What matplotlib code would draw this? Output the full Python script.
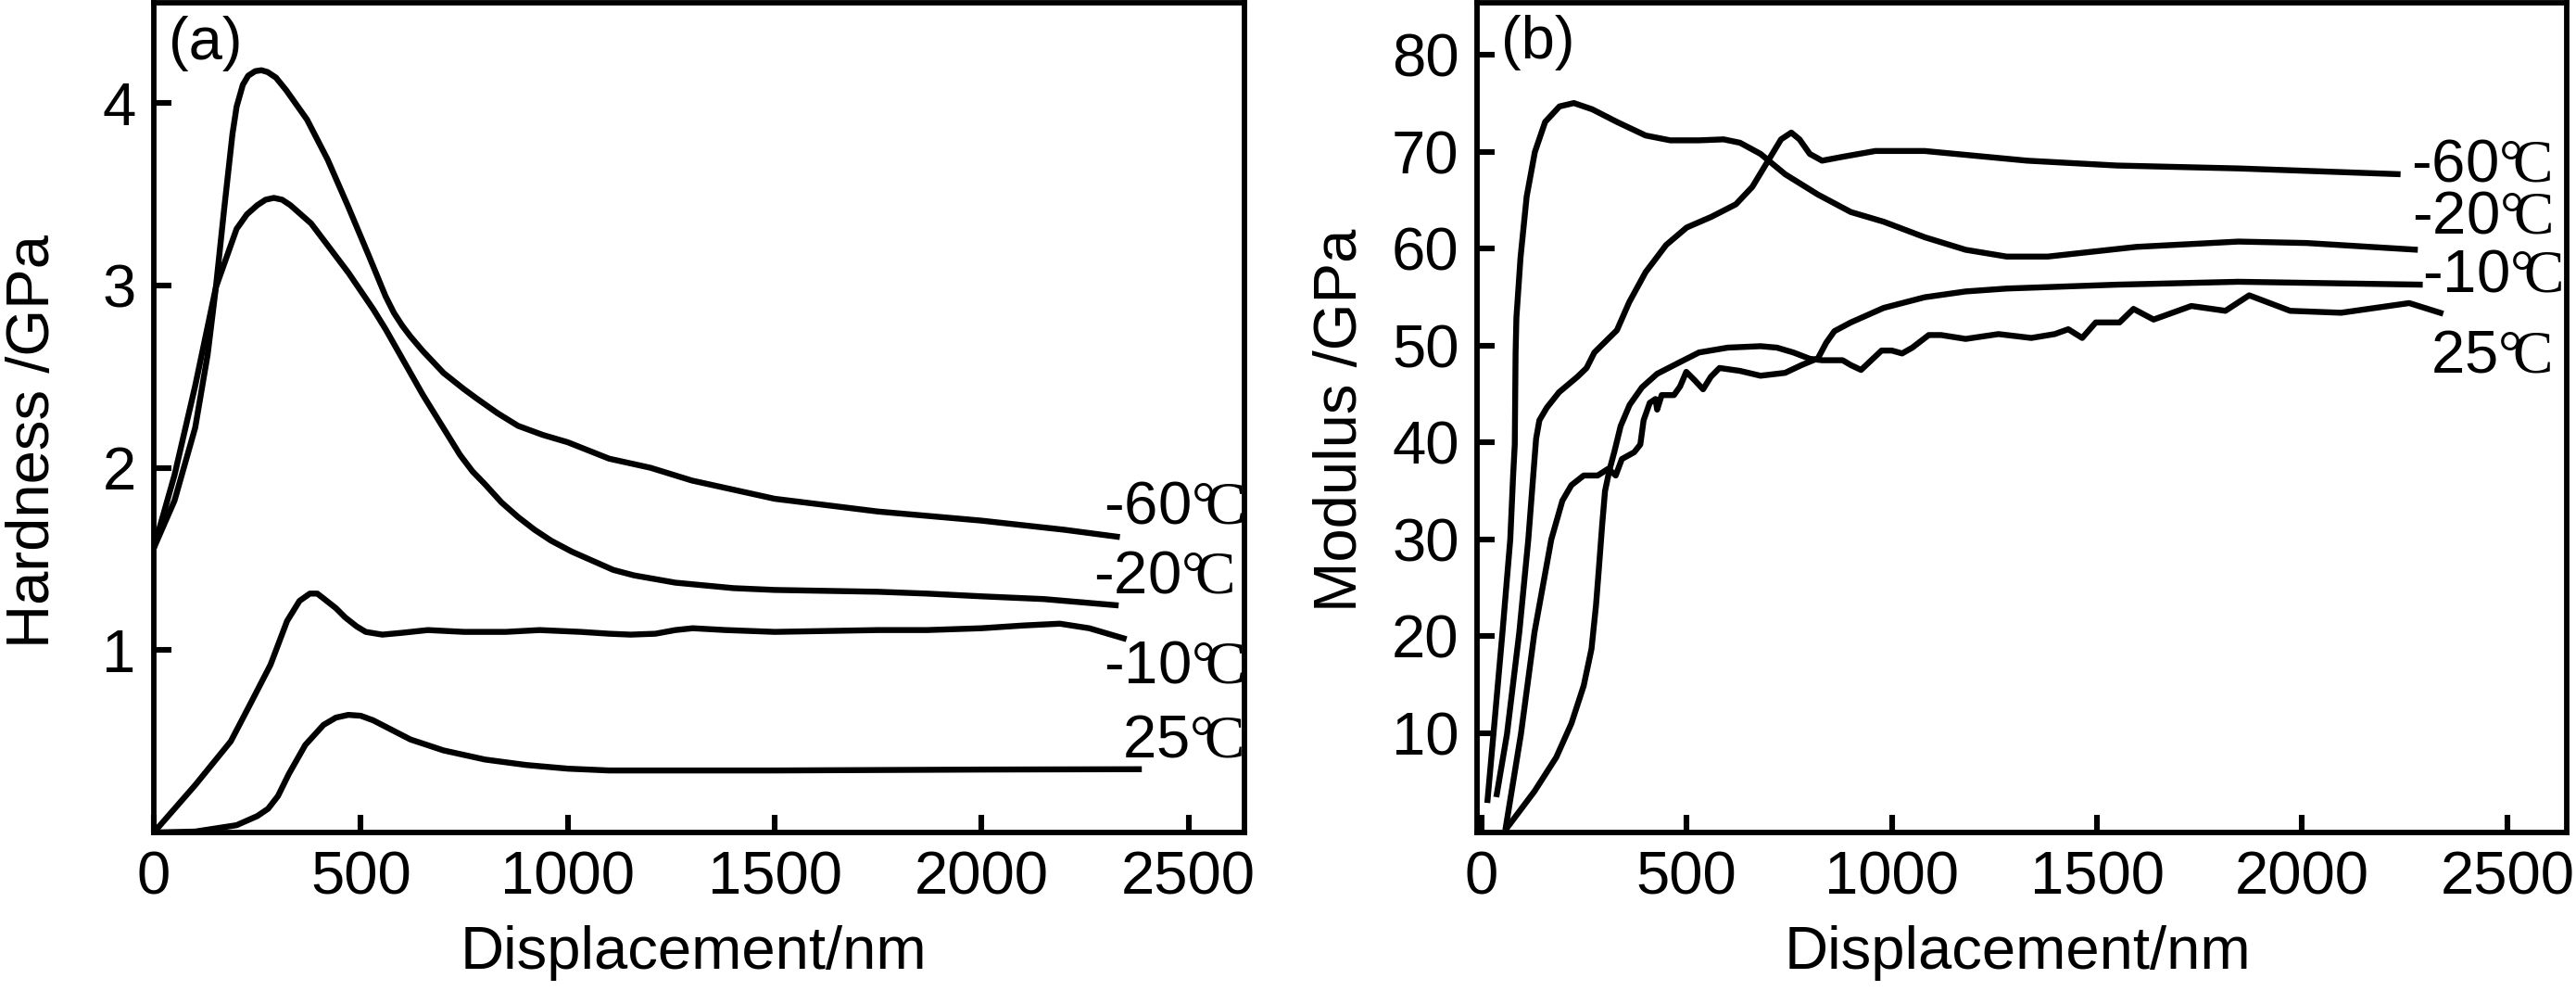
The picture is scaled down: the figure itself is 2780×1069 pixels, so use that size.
import matplotlib
matplotlib.use("Agg")
import matplotlib.pyplot as plt

plt.rcParams['font.family'] = ['Liberation Sans', 'DejaVu Sans']
# serif face for the degree-Celsius sign inside the curve labels
plt.rcParams['mathtext.fontset'] = 'custom'
plt.rcParams['mathtext.rm'] = 'Liberation Serif'

# ---- (a) hardness vs displacement ----
hard_m60_x = [0, 50, 100, 130, 150, 170, 190, 200, 215, 228, 245, 260, 275, 295, 320, 370,
              420, 470, 520, 540, 560, 580, 600, 620, 650, 700, 750, 780, 830, 880, 940,
              1000, 1100, 1200, 1300, 1400, 1500, 1750, 2000, 2200, 2334]
hard_m60_y = [1.56, 1.82, 2.22, 2.62, 2.99, 3.42, 3.83, 3.98, 4.10, 4.15, 4.175, 4.18,
              4.17, 4.14, 4.07, 3.91, 3.69, 3.43, 3.16, 3.05, 2.94, 2.85, 2.78, 2.72, 2.64,
              2.52, 2.43, 2.38, 2.30, 2.23, 2.18, 2.14, 2.05, 2.00, 1.93, 1.88, 1.83, 1.76,
              1.71, 1.66, 1.62]

hard_m20_x = [0, 50, 100, 150, 200, 225, 250, 270, 290, 310, 330, 380, 440, 470, 500, 530,
              560, 590, 620, 650, 680, 710, 740, 770, 800, 840, 880, 920, 960, 1010, 1060,
              1110, 1160, 1210, 1260, 1400, 1500, 1750, 1868, 2000, 2150, 2331]
hard_m20_y = [1.56, 1.96, 2.45, 2.99, 3.31, 3.39, 3.44, 3.47, 3.48, 3.47, 3.44, 3.34, 3.16,
              3.07, 2.97, 2.87, 2.76, 2.64, 2.52, 2.40, 2.29, 2.18, 2.07, 1.98, 1.91, 1.81,
              1.73, 1.66, 1.60, 1.54, 1.49, 1.44, 1.41, 1.39, 1.37, 1.34, 1.33, 1.32, 1.31,
              1.295, 1.28, 1.245]

hard_m10_x = [0, 100, 186, 232, 282, 322, 352, 377, 395, 412, 440, 462, 490, 512, 552, 600,
              662, 750, 850, 932, 1032, 1100, 1152, 1212, 1260, 1302, 1382, 1500, 1750,
              1868, 2000, 2100, 2189, 2260, 2350]
hard_m10_y = [0.0, 0.26, 0.50, 0.70, 0.92, 1.16, 1.27, 1.31, 1.31, 1.28, 1.23, 1.18, 1.13,
              1.10, 1.085, 1.095, 1.11, 1.10, 1.10, 1.11, 1.10, 1.09, 1.085, 1.09, 1.11,
              1.12, 1.11, 1.10, 1.11, 1.11, 1.12, 1.135, 1.145, 1.12, 1.06]

hard_25_x = [0, 100, 200, 250, 276, 300, 326, 366, 410, 440, 470, 500, 530, 560, 620, 700,
             800, 900, 1000, 1100, 1200, 1500, 2000, 2387]
hard_25_y = [0.0, 0.005, 0.04, 0.09, 0.13, 0.20, 0.32, 0.48, 0.59, 0.63, 0.645, 0.64, 0.615,
             0.58, 0.51, 0.45, 0.40, 0.37, 0.35, 0.34, 0.34, 0.34, 0.345, 0.347]

# ---- (b) modulus vs displacement ----
mod_m60_x = [36, 62, 92, 114, 126, 133, 141, 159, 189, 234, 256, 275, 330, 360, 400, 450,
             500, 560, 620, 660, 700, 730, 755, 775, 800, 830, 880, 960, 1080, 1180, 1330,
             1548, 1845, 2240]
mod_m60_y = [3.4, 9.9, 20.4, 30.0, 36.6, 40.4, 42.3, 43.6, 45.2, 46.8, 47.7, 49.3, 51.6,
             54.5, 57.6, 60.4, 62.2, 63.3, 64.6, 66.4, 69.2, 71.3, 72.0, 71.3, 69.8, 69.1,
             69.5, 70.1, 70.1, 69.7, 69.1, 68.6, 68.3, 67.7]

mod_m20_x = [14, 29, 51, 70, 77, 81, 83, 85, 95, 110, 130, 155, 190, 225, 270, 330, 400,
             460, 530, 590, 630, 680, 740, 820, 900, 980, 1080, 1180, 1280, 1380, 1596,
             1845, 2011, 2282]
mod_m20_y = [2.8, 9.9, 20.4, 30.0, 36.6, 39.8, 49.3, 52.9, 59.1, 65.4, 70.0, 73.1, 74.7,
             75.05, 74.4, 73.1, 71.7, 71.2, 71.2, 71.3, 70.95, 69.8, 67.7, 65.6, 63.8, 62.8,
             61.2, 59.9, 59.2, 59.2, 60.2, 60.75, 60.6, 59.9]

mod_m10_x = [58, 96, 129, 170, 197, 219, 249, 283, 309, 327, 342, 372, 387, 395, 410, 424,
             428, 439, 469, 484, 499, 518, 540, 559, 580, 630, 680, 740, 780, 820, 840, 860,
             900, 980, 1080, 1180, 1280, 1347, 1548, 1845, 2294]
mod_m10_y = [0.0, 9.9, 20.4, 30.0, 34.0, 35.6, 36.6, 36.6, 37.3, 36.6, 38.3, 39.0, 39.8,
             42.3, 44.1, 44.5, 43.4, 44.9, 44.9, 45.8, 47.3, 46.5, 45.5, 46.8, 47.7, 47.4,
             46.9, 47.2, 48.0, 48.7, 50.3, 51.5, 52.4, 53.9, 55.0, 55.6, 55.9, 56.0, 56.3,
             56.6, 56.3]

mod_25_x = [58, 129, 182, 219, 249, 268, 279, 286, 294, 301, 312, 324, 339, 361, 391, 428,
            488, 530, 600, 680, 720, 760, 800, 830, 880, 900, 925, 950, 975, 1000, 1025,
            1050, 1090, 1120, 1180, 1260, 1340, 1397, 1430, 1464, 1497, 1555, 1589, 1638,
            1730, 1813, 1871, 1971, 2095, 2261, 2344]
mod_25_y = [0.0, 4.0, 7.5, 11.0, 14.9, 18.7, 23.2, 27.0, 31.5, 35.0, 37.2, 39.1, 41.7,
            43.9, 45.7, 47.1, 48.4, 49.3, 49.8, 49.95, 49.8, 49.3, 48.65, 48.5, 48.5, 48.0,
            47.5, 48.5, 49.5, 49.5, 49.2, 49.8, 51.1, 51.1, 50.7, 51.2, 50.8, 51.2, 51.7,
            50.8, 52.4, 52.4, 53.8, 52.7, 54.1, 53.6, 55.2, 53.6, 53.4, 54.4, 53.3]

temps = ['-60', '-20', '-10', '25']
hard_label_pos = [(2294, 1.693), (2271, 1.313), (2294, 0.82), (2339, 0.413)]
mod_label_pos = [(2265, 67.0), (2268, 61.6), (2293, 55.55), (2314, 47.25)]

hard_ticks = [1, 2, 3, 4]
mod_ticks = [10, 20, 30, 40, 50, 60, 70, 80]
x_ticks = [0, 500, 1000, 1500, 2000, 2500]

FS = 47
DEG_C = r'$\mathrm{°\!C}$'
W, H = 2780, 1069
fig = plt.figure(figsize=(W / 100, H / 100), dpi=100)
ax1 = fig.add_axes([166 / W, 1 - 898 / H, 1177 / W, 895 / H])
ax2 = fig.add_axes([1594 / W, 1 - 898 / H, 1176 / W, 895 / H])

hard = [(hard_m60_x, hard_m60_y), (hard_m20_x, hard_m20_y),
        (hard_m10_x, hard_m10_y), (hard_25_x, hard_25_y)]
mod = [(mod_m60_x, mod_m60_y), (mod_m20_x, mod_m20_y),
       (mod_m10_x, mod_m10_y), (mod_25_x, mod_25_y)]

for ax, series, pos in [(ax1, hard, hard_label_pos), (ax2, mod, mod_label_pos)]:
    for (xs, ys), name, (tx, ty) in zip(series, temps, pos):
        ax.plot(xs, ys, color='black', lw=4.6, solid_joinstyle='round',
                solid_capstyle='butt')
        ax.text(tx, ty, name + DEG_C, fontsize=FS, ha='left', va='baseline')
    for sp in ax.spines.values():
        sp.set_linewidth(4.2)
    ax.tick_params(direction='in', length=14, width=4.4, pad=14, labelsize=FS,
                   top=False, right=False)
    ax.set_xticks(x_ticks)
    ax.set_xlabel('Displacement/nm', fontsize=FS)

ax1.set_xlim(0, 2635)
ax1.set_ylim(0, 4.55)
ax1.set_yticks(hard_ticks)
ax1.set_ylabel('Hardness /GPa', fontsize=FS)
ax1.yaxis.set_label_coords(-0.085, 0.4715)
ax1.xaxis.set_label_coords(0.495, -0.112)
ax1.text(0.014, 0.932, '(a)', transform=ax1.transAxes, fontsize=FS,
         ha='left', va='baseline')

ax2.set_xlim(-11, 2645)
ax2.set_ylim(-0.25, 85.4)
ax2.set_yticks(mod_ticks)
ax2.set_ylabel('Modulus /GPa', fontsize=FS)
ax2.yaxis.set_label_coords(-0.0995, 0.497)
ax2.xaxis.set_label_coords(0.496, -0.112)
ax2.text(0.022, 0.933, '(b)', transform=ax2.transAxes, fontsize=FS,
         ha='left', va='baseline')

fig.savefig('out.png', dpi=100)
